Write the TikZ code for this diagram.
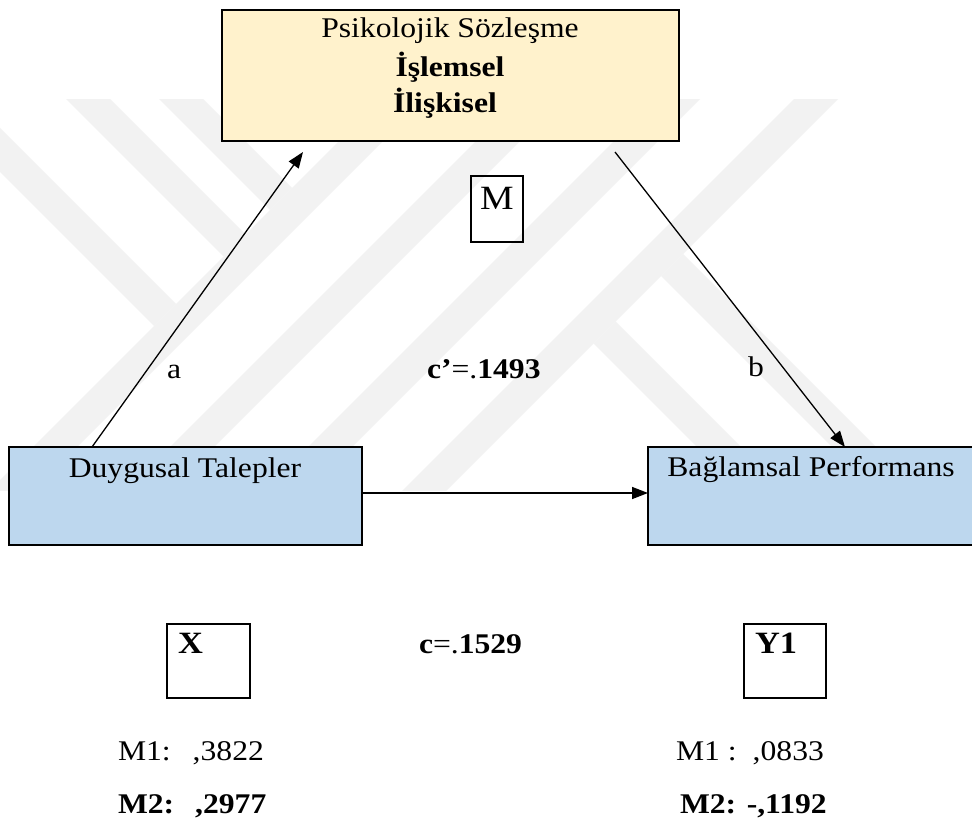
\documentclass[tikz,border=0pt]{standalone}
\usepackage{fontspec}
\setmainfont{Liberation Serif}[FakeStretch=1.11]
\usetikzlibrary{arrows.meta,calc}
\definecolor{cream}{HTML}{FFF2CC}
\definecolor{paleblue}{HTML}{BDD7EE}

\begin{document}
\begin{tikzpicture}[x=1pt,y=-1pt,
  box/.style={draw=black,line width=2pt,outer sep=0pt,inner sep=0pt},
  tagbox/.style={draw=black,line width=1.5pt,outer sep=0pt,inner sep=0pt},
  txt/.style={inner sep=0pt,outer sep=0pt,font=\fontsize{28.5}{34}\selectfont},
  link/.style={line width=1.3pt,-{Triangle[length=16pt,width=12pt]}},
  wm/.style={fill=black!5}]
\useasboundingbox (0,0) rectangle (972,826);
\fill[white] (0,0) rectangle (972,826);

% faint striped emblem in the background
\begin{scope}
  \clip (0,100) rectangle (972,490);
  % long rising bars
  \foreach \a in {480,617,755,893}
    \fill[wm] (\a-60,60) -- (\a+44-60,60) -- (\a+44-530,530) -- (\a-530,530) -- cycle;
  % falling bars on the left, ending on the first rising bar
  \foreach \b in {60,-33,-172}
    \fill[wm] (\b+60,60) -- (\b+104,60) -- ({(524+\b)/2},{(436-\b)/2}) -- ({(480+\b)/2},{(480-\b)/2}) -- cycle;
  % falling bars on the right, hanging off the last rising bar
  \foreach \c in {385,250}
    \fill[wm] ({(937+\c)/2},{(937-\c)/2}) -- ({(981+\c)/2},{(893-\c)/2}) -- (\c+574,530) -- (\c+530,530) -- cycle;
\end{scope}

% boxes
\node[box,fill=cream,minimum width=457pt,minimum height=131pt] (PS) at (450.5,75.5) {};
\node[box,fill=paleblue,minimum width=353pt,minimum height=98pt] (DT) at (185.5,496) {};
\node[box,fill=paleblue,minimum width=327pt,minimum height=98pt] (BP) at (811.5,496) {};
\node[tagbox,minimum width=52pt,minimum height=66pt] (Mbox) at (497,209) {};
\node[tagbox,minimum width=83pt,minimum height=74pt] (Xbox) at (208.5,661) {};
\node[tagbox,minimum width=82pt,minimum height=74pt] (Ybox) at (785,661) {};

% box texts
\node[txt,anchor=base] (ps1) at (450,38) {Psikolojik Sözleşme};
\node[txt,anchor=base,font=\fontsize{28.5}{34}\selectfont\bfseries] (ps2) at (450,77) {İşlemsel};
\node[txt,anchor=base,font=\fontsize{28.5}{34}\selectfont\bfseries] (ps3) at (445,113) {İlişkisel};
\node[txt,anchor=base] (dtl) at (185,477) {Duygusal Talepler};
\node[txt,anchor=base] (bpl) at (811,476) {Bağlamsal Performans};
\node[txt,anchor=base,font=\fontsize{34}{40}\selectfont] (ml) at (497,210) {M};
\node[txt,anchor=base west,font=\fontsize{31}{36}\selectfont\bfseries] (xl) at (178,653) {X};
\node[txt,anchor=base west,font=\fontsize{31}{36}\selectfont\bfseries] (yl) at (755,653) {Y1};

% connectors
\coordinate (aTip) at (303,152);
\coordinate (bTail) at (615,152);
\draw[link] ($(DT.north west)+(83,0)$) -- (aTip);
\draw[link] (bTail) -- ($(BP.north west)+(197,0)$);
\draw[link,line width=1.5pt] ($(DT.east)+(0,-3)$) -- ($(BP.west)+(0,-3)$);

% path labels and coefficients
\node[txt,anchor=base west] (la) at (167,378) {a};
\node[txt,anchor=base west] (lb) at (748,377) {b};
\node[txt,anchor=base west] (cp) at (427,378) {{\bfseries c’}=.{\bfseries 1493}};
\node[txt,anchor=base west] (cc) at (419,653) {{\bfseries c}=.{\bfseries 1529}};

% means under the two variables
\node[txt,anchor=base west] (x1) at (118,760) {M1:\hspace{22pt},3822};
\node[txt,anchor=base west,font=\fontsize{28.5}{34}\selectfont\bfseries] (x2) at (118,813) {M2:\hspace{21pt},2977};
\node[txt,anchor=base west] (y1) at (676,760) {M1\hspace{8pt}:\hspace{16pt},0833};
\node[txt,anchor=base west,font=\fontsize{28.5}{34}\selectfont\bfseries] (y2) at (680,813) {M2: -,1192};
\end{tikzpicture}
\end{document}
